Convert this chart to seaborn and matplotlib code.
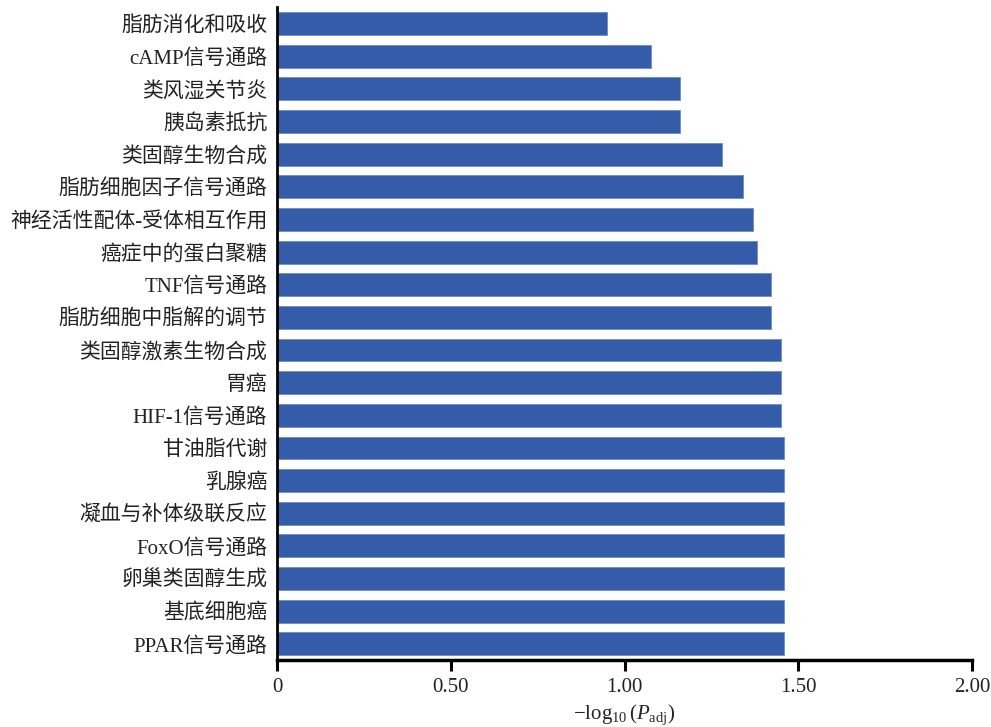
import matplotlib
matplotlib.use("Agg")
import matplotlib.pyplot as plt
import seaborn as sns
import pandas as pd

pathways = [
    "脂肪消化和吸收", "cAMP信号通路", "类风湿关节炎", "胰岛素抵抗", "类固醇生物合成",
    "脂肪细胞因子信号通路", "神经活性配体-受体相互作用", "癌症中的蛋白聚糖", "TNF信号通路",
    "脂肪细胞中脂解的调节", "类固醇激素生物合成", "胃癌", "HIF-1信号通路", "甘油脂代谢",
    "乳腺癌", "凝血与补体级联反应", "FoxO信号通路", "卵巢类固醇生成", "基底细胞癌", "PPAR信号通路",
]
neg_log_padj = [
    0.95, 1.075, 1.16, 1.16, 1.28,
    1.34, 1.37, 1.38, 1.42,
    1.42, 1.45, 1.45, 1.45, 1.46,
    1.46, 1.46, 1.46, 1.46, 1.46, 1.46,
]
x_ticks = [0, 0.5, 1.0, 1.5, 2.0]
x_tick_labels = ["0", "0.50", "1.00", "1.50", "2.00"]

df = pd.DataFrame({"pathway": pathways, "value": neg_log_padj})

sns.set_theme(style="white")
plt.rcParams["font.family"] = ["Liberation Serif", "Noto Sans CJK SC", "DejaVu Sans"]
plt.rcParams["mathtext.fontset"] = "custom"
plt.rcParams["mathtext.rm"] = "Liberation Serif"
plt.rcParams["mathtext.it"] = "Liberation Serif:italic"

fig = plt.figure(figsize=(9.91, 7.27), dpi=100)
ax = fig.add_axes([0.2795, 0.092, 0.7015, 0.898])

sns.barplot(data=df, x="value", y="pathway", orient="h", color="#345CA8",
            saturation=1, width=0.70, edgecolor="#6f8cc6", linewidth=0.6, ax=ax)

ax.set_xlim(0, 2.0)
ax.set_ylim(19.5, -0.5)
ax.set_xticks(x_ticks)
ax.set_xticklabels(x_tick_labels)
ax.set_ylabel("")
ax.set_xlabel(r"$-\mathrm{log}_{10}\,(P_{\mathrm{adj}})$", fontsize=15, labelpad=4)

for s in ["top", "right"]:
    ax.spines[s].set_visible(False)
ax.spines["left"].set_linewidth(2.0)
ax.spines["bottom"].set_linewidth(2.5)
ax.spines["left"].set_color("black")
ax.spines["bottom"].set_color("black")

ax.tick_params(axis="x", direction="out", length=8, width=2.2, color="black",
               labelsize=15, pad=5, bottom=True)
ax.tick_params(axis="y", length=0, labelsize=15, pad=7, left=False)
for lbl in ax.get_yticklabels():
    lbl.set_color("#222222")
for lbl in ax.get_xticklabels():
    lbl.set_color("#222222")

fig.savefig("out.png", dpi=100, facecolor="white")
